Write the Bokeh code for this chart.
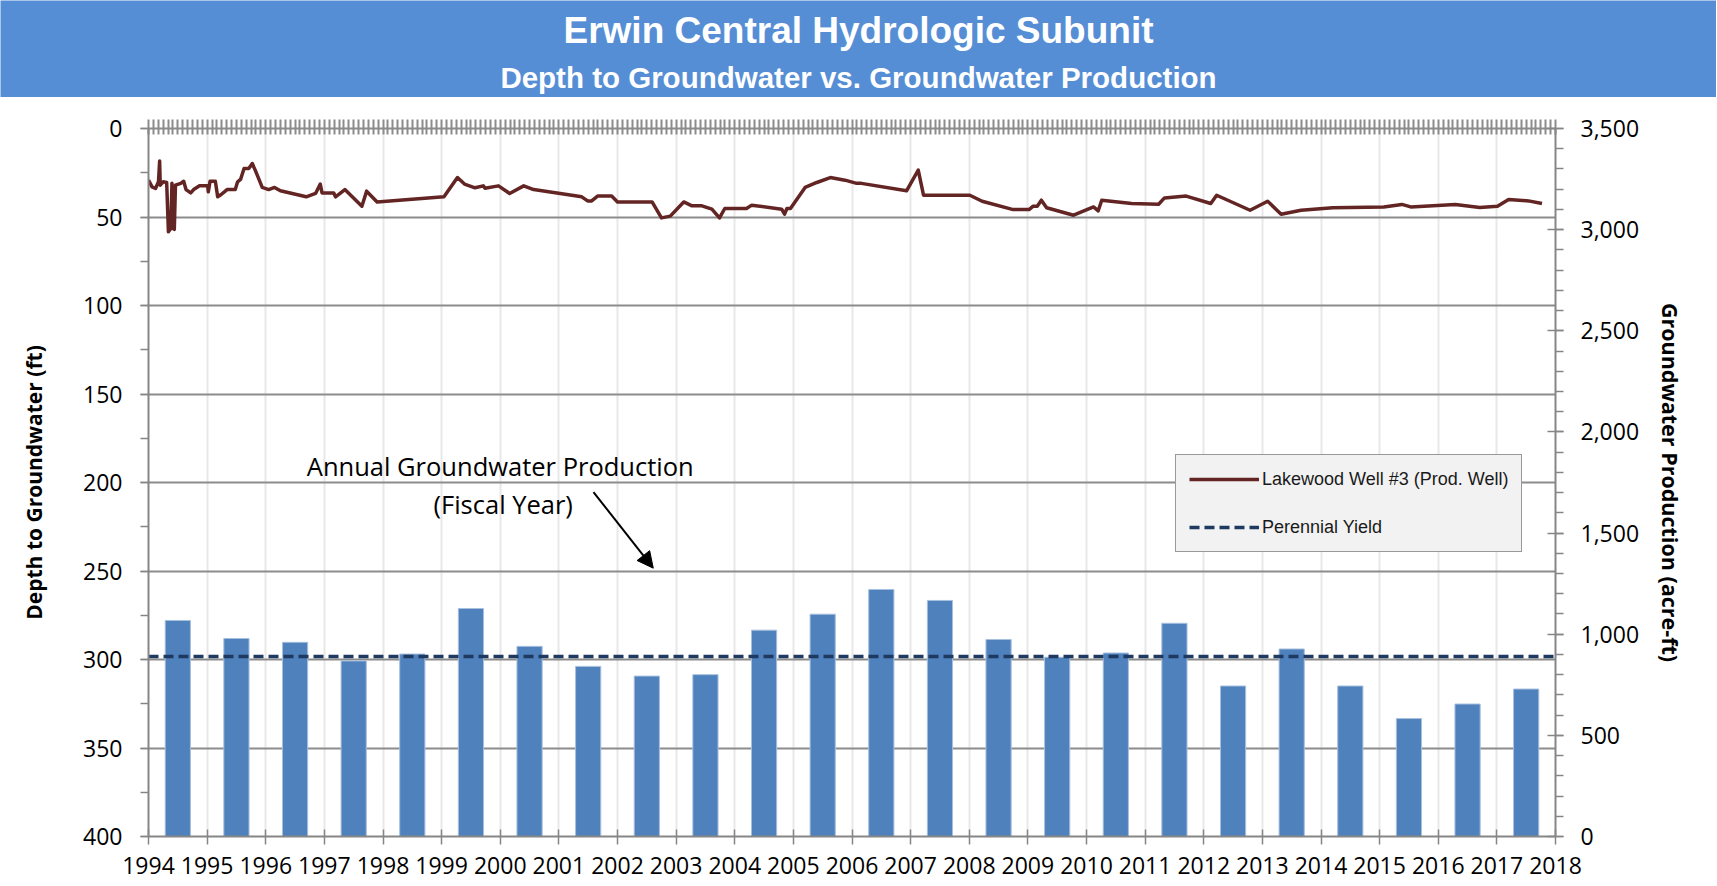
from bokeh.plotting import figure
from bokeh.models import (Range1d, LinearAxis, FixedTicker, SingleIntervalTicker,
                          NumeralTickFormatter, Legend, LegendItem, Label, Arrow,
                          NormalHead, CustomJSTickFormatter)
from bokeh.layouts import column
from bokeh.embed import file_html
from bokeh.resources import INLINE

# ---------------- data ----------------
title_text = "Erwin Central Hydrologic Subunit"
subtitle_text = "Depth to Groundwater vs. Groundwater Production"

year_ticks = list(range(1994, 2019))

# Annual groundwater production (fiscal year, acre-ft)
prod_years = [1994, 1995, 1996, 1997, 1998, 1999, 2000, 2001, 2002, 2003, 2004, 2005,
              2006, 2007, 2008, 2009, 2010, 2011, 2012, 2013, 2014, 2015, 2016, 2017]
prod_values = [1068, 979, 960, 868, 902, 1127, 940, 841, 793, 800, 1020, 1099,
               1221, 1167, 974, 886, 907, 1054, 744, 927, 744, 583, 655, 729]

# Perennial yield (acre-ft)
py_years = [1994, 2018]
py_values = [890, 890]

# Lakewood Well #3 depth to groundwater (ft), decimal years
well_dates = [1994.00, 1994.06, 1994.12, 1994.17, 1994.19, 1994.20, 1994.25, 1994.31,
              1994.34, 1994.38, 1994.40, 1994.42, 1994.44, 1994.46, 1994.55, 1994.60,
              1994.64, 1994.72, 1994.77, 1994.87, 1995.01, 1995.02, 1995.05, 1995.14,
              1995.18, 1995.24, 1995.34, 1995.48, 1995.52, 1995.57, 1995.63, 1995.71,
              1995.77, 1995.82, 1995.94, 1996.05, 1996.15, 1996.25, 1996.69, 1996.85,
              1996.93, 1996.96, 1997.16, 1997.19, 1997.35, 1997.64, 1997.72, 1997.90,
              1999.04, 1999.27, 1999.39, 1999.57, 1999.71, 1999.74, 1999.97, 2000.16,
              2000.40, 2000.57, 2001.39, 2001.49, 2001.56, 2001.66, 2001.90, 2002.00,
              2002.59, 2002.75, 2002.90, 2003.13, 2003.27, 2003.44, 2003.61, 2003.74,
              2003.83, 2004.20, 2004.29, 2004.80, 2004.85, 2004.89, 2004.95, 2005.20,
              2005.40, 2005.63, 2005.88, 2006.08, 2006.16, 2006.93, 2007.13, 2007.22,
              2008.01, 2008.22, 2008.75, 2009.02, 2009.09, 2009.16, 2009.23, 2009.32,
              2009.78, 2010.12, 2010.20, 2010.26, 2010.77, 2011.23, 2011.33, 2011.70,
              2012.12, 2012.22, 2012.79, 2013.09, 2013.32, 2013.66, 2014.20, 2015.07,
              2015.38, 2015.53, 2016.29, 2016.71, 2017.01, 2017.20, 2017.54, 2017.77]
well_depth = [29.2, 33.0, 33.9, 30.1, 18.4, 32.0, 30.1, 30.5,
              58.4, 56.5, 31.0, 56.5, 57.0, 32.0, 31.0, 29.8,
              34.5, 36.4, 34.5, 32.4, 32.4, 35.8, 29.8, 29.8,
              38.6, 37.3, 34.5, 34.5, 30.1, 28.8, 22.6, 22.6,
              19.8, 23.5, 33.3, 34.5, 33.3, 35.2, 38.6, 36.7,
              31.4, 36.4, 36.4, 38.6, 34.5, 43.9, 35.4, 41.5,
              38.6, 27.7, 31.4, 33.5, 32.4, 33.8, 32.4, 36.7,
              32.4, 34.5, 38.6, 40.9, 40.9, 38.2, 38.2, 41.5,
              41.5, 50.5, 49.5, 41.5, 43.7, 43.7, 45.6, 50.5,
              45.2, 45.2, 43.3, 45.6, 48.4, 45.2, 45.2, 33.3,
              30.5, 27.7, 29.2, 31.0, 31.0, 35.2, 23.5, 37.7,
              37.7, 41.1, 45.8, 45.8, 43.9, 43.9, 40.5, 44.8,
              49.0, 44.3, 46.5, 40.5, 42.4, 42.8, 39.2, 38.2,
              42.4, 37.7, 46.2, 41.1, 48.4, 46.2, 44.8, 44.3,
              42.9, 44.3, 42.9, 44.6, 43.9, 40.1, 40.9, 42.4]

annot_line1 = "Annual Groundwater Production"
annot_line2 = "(Fiscal Year)"

# ---------------- styles ----------------
BANNER = "#558ED5"
BAR = "#4F81BD"
WELL = "#632523"
PY = "#1F3A60"
AXIS_GRAY = "#868686"
GRID_GRAY = "#8C8C8C"
VGRID = "#E8E8E8"
FONT = "Open Sans"
W = 1716

# ---------------- banner ----------------
banner = figure(width=W, height=97, output_backend="svg", toolbar_location=None,
                x_range=Range1d(0, 1), y_range=Range1d(0, 1),
                x_axis_location=None, y_axis_location=None, min_border=0)
try:
    banner.frame_align = False
except Exception:
    pass
banner.grid.visible = False
banner.background_fill_color = BANNER
banner.border_fill_color = BANNER
banner.outline_line_color = None
banner.add_layout(Label(x=0.5, y=67, y_units="screen", text=title_text,
                        text_align="center", text_baseline="middle", text_color="white",
                        text_font="Liberation Sans", text_font_style="bold",
                        text_font_size="37px"))
banner.add_layout(Label(x=0.5, y=20, y_units="screen", text=subtitle_text,
                        text_align="center", text_baseline="middle", text_color="white",
                        text_font="Liberation Sans", text_font_style="bold",
                        text_font_size="29.5px"))

# ---------------- main chart ----------------
p = figure(width=W, height=788, output_backend="svg", toolbar_location=None,
           x_range=Range1d(1994, 2018), y_range=Range1d(400, 0),
           min_border_left=148, min_border_right=161, min_border_top=31,
           min_border_bottom=49)
p.outline_line_color = None
p.background_fill_color = "white"
p.border_fill_color = "white"
p.extra_y_ranges = {"prod": Range1d(0, 3500)}

# bars
bar_x = [y + 0.5 for y in prod_years]
p.vbar(x=bar_x, top=prod_values, bottom=0, width=0.43, y_range_name="prod",
       fill_color=BAR, line_color="#A7C0DE", line_width=1)

# perennial yield
py_r = p.line(py_years, py_values, y_range_name="prod", line_color=PY,
              line_width=3.5, line_dash="10 5")

# well
well_r = p.line(well_dates, well_depth, line_color=WELL, line_width=3.5,
                line_join="round")

# x axis (bottom)
xa = p.xaxis[0]
xa.ticker = FixedTicker(ticks=year_ticks)
xa.major_label_text_font = FONT
xa.major_label_text_font_size = "23px"
xa.major_label_text_color = "black"
xa.axis_line_color = AXIS_GRAY
xa.axis_line_width = 2
xa.major_tick_line_color = AXIS_GRAY
xa.major_tick_line_width = 1.5
xa.major_tick_in = 7
xa.major_tick_out = 8
xa.minor_tick_line_color = None
xa.major_label_standoff = 12

# left axis
ya = p.yaxis[0]
ya.ticker = SingleIntervalTicker(interval=50, num_minor_ticks=2)
ya.axis_label = "Depth to Groundwater (ft)"
ya.axis_label_text_font = FONT
ya.axis_label_text_font_style = "bold"
ya.axis_label_text_font_size = "21px"
ya.axis_label_text_color = "black"
ya.axis_label_standoff = 32
ya.major_label_text_font = FONT
ya.major_label_text_font_size = "23px"
ya.major_label_text_color = "black"
ya.major_label_standoff = 18
ya.axis_line_color = AXIS_GRAY
ya.axis_line_width = 2
ya.major_tick_line_color = AXIS_GRAY
ya.major_tick_line_width = 1.5
ya.major_tick_in = 0
ya.major_tick_out = 8
ya.minor_tick_line_color = AXIS_GRAY
ya.minor_tick_line_width = 1.5
ya.minor_tick_in = 0
ya.minor_tick_out = 8

# right axis
ra = LinearAxis(y_range_name="prod",
                ticker=SingleIntervalTicker(interval=500, num_minor_ticks=5),
                formatter=NumeralTickFormatter(format="0,0"),
                axis_label="Groundwater Production (acre-ft)")
ra.axis_label_text_font = FONT
ra.axis_label_text_font_style = "bold"
ra.axis_label_text_font_size = "21.5px"
ra.axis_label_text_color = "black"
ra.axis_label_standoff = 14
ra.major_label_text_font = FONT
ra.major_label_text_font_size = "23px"
ra.major_label_text_color = "black"
ra.major_label_standoff = 17
ra.axis_line_color = AXIS_GRAY
ra.axis_line_width = 2
ra.major_tick_line_color = AXIS_GRAY
ra.major_tick_line_width = 1.5
ra.major_tick_in = 8
ra.major_tick_out = 8
ra.minor_tick_line_color = AXIS_GRAY
ra.minor_tick_line_width = 1.5
ra.minor_tick_in = 0
ra.minor_tick_out = 8
p.add_layout(ra, "right")

# top axis with dense (monthly) ticks, no labels
month_ticks = [1994 + m / 12 for m in range(24 * 12 + 1)]
ta = LinearAxis(ticker=FixedTicker(ticks=month_ticks),
                formatter=CustomJSTickFormatter(code="return ''"))
ta.major_label_text_font_size = "0px"
ta.major_label_standoff = 0
ta.axis_line_color = GRID_GRAY
ta.axis_line_width = 2
ta.major_tick_line_color = GRID_GRAY
ta.major_tick_line_width = 2
ta.major_tick_in = 6
ta.major_tick_out = 9
ta.minor_tick_line_color = None
p.add_layout(ta, "above")

# grids
p.xgrid.ticker = FixedTicker(ticks=year_ticks)
p.xgrid.grid_line_color = VGRID
p.xgrid.grid_line_width = 2
p.ygrid.grid_line_color = GRID_GRAY
p.ygrid.grid_line_width = 2

# annotation
p.add_layout(Label(x=2000.0, y=190.7, text=annot_line1, text_align="center",
                   text_baseline="middle", text_font=FONT, text_font_size="25.5px",
                   text_color="black"))
p.add_layout(Label(x=2000.05, y=212.0, text=annot_line2, text_align="center",
                   text_baseline="middle", text_font=FONT, text_font_size="25.5px",
                   text_color="black"))
p.add_layout(Arrow(x_start=2001.59, y_start=205.4, x_end=2002.61, y_end=248.4,
                   line_width=2, line_color="black",
                   end=NormalHead(size=16, fill_color="black", line_color="black")))

# legend
legend = Legend(items=[LegendItem(label="Lakewood Well #3 (Prod. Well)", renderers=[well_r]),
                       LegendItem(label="Perennial Yield", renderers=[py_r])],
                location=(1027, 284), orientation="vertical",
                background_fill_color="#F2F2F2", background_fill_alpha=1.0,
                border_line_color="#404040", border_line_width=1,
                label_text_font="Liberation Sans", label_text_font_size="18px",
                label_text_color="#1A1A1A",
                glyph_width=70, glyph_height=22, label_height=22,
                label_standoff=3, spacing=26, padding=13, margin=0)
p.add_layout(legend, "center")

layout = column(banner, p, spacing=0)
open("out.html", "w").write(file_html(layout, INLINE))
